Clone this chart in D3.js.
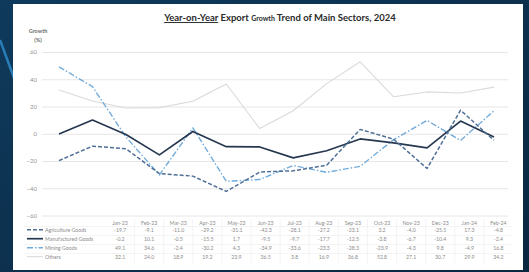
<!DOCTYPE html>
<html>
<head>
<meta charset="utf-8">
<script src="https://cdn.jsdelivr.net/npm/d3@7"></script>
<style>
    body { margin: 0; background: #0b2a45; }
    svg { display: block; }
    .tick line { stroke: #e6e6e6; }
    .tick text { fill: #939393; font-size: 6px; }
</style>
</head>
<body>
<svg id="chart" width="529" height="272"></svg>
<script>
// --- data ---
const months = ["Jan-23", "Feb-23", "Mar-23", "Apr-23", "May-23", "Jun-23", "Jul-23",
    "Aug-23", "Sep-23", "Oct-23", "Nov-23", "Dec-23", "Jan-24", "Feb-24"];
const agriculture = [-19.7, -9.1, -11.0, -29.2, -31.1, -42.3, -28.1, -27.2, -23.1, 3.2, -4.0, -25.5, 17.3, -4.8];
const manufactured = [-0.2, 10.1, -0.5, -15.5, 1.7, -9.5, -9.7, -17.7, -12.5, -3.8, -6.7, -10.4, 9.3, -2.4];
const mining = [49.1, 34.6, -2.4, -30.2, 4.3, -34.9, -33.6, -23.3, -28.3, -23.9, -4.3, 9.8, -4.9, 16.8];
const others = [32.1, 24.0, 18.9, 19.2, 23.9, 36.5, 3.8, 16.9, 36.8, 52.8, 27.1, 30.7, 29.9, 34.2];
const yTicks = [-60, -40, -20, 0, 20, 40, 60];

const series = [
    { name: "Agriculture Goods", values: agriculture, color: "#4f6f96", width: 1.5, dash: "4,2" },
    { name: "Manufactured Goods", values: manufactured, color: "#263850", width: 1.7, dash: null },
    { name: "Mining Goods", values: mining, color: "#72acdb", width: 1.4, dash: "6,2,1.5,2" },
    { name: "Others", values: others, color: "#dadada", width: 1.1, dash: null }
];

const svg = d3.select("#chart");

// background slide + white panel
const bg = svg.append("defs").append("linearGradient")
    .attr("id", "bg").attr("x1", 0).attr("y1", 0).attr("x2", 1).attr("y2", 1);
bg.append("stop").attr("offset", 0).attr("stop-color", "#0f3a5c");
bg.append("stop").attr("offset", 1).attr("stop-color", "#0a2740");
svg.append("rect").attr("width", 529).attr("height", 272).attr("fill", "url(#bg)");
svg.append("line").attr("x1", 0).attr("y1", 40).attr("x2", 14).attr("y2", 78)
    .attr("stroke", "#2f8fd0").attr("stroke-width", 2.5).attr("opacity", 0.8);
svg.append("rect").attr("x", 13).attr("y", 4).attr("width", 510).attr("height", 266).attr("fill", "#fff");

// title
const title = svg.append("text")
    .attr("x", 280).attr("y", 21)
    .attr("text-anchor", "middle")
    .style("font-family", "Lato").style("font-weight", "bold").style("font-size", "9.5px")
    .attr("fill", "#2a2a2a");
title.append("tspan").attr("text-decoration", "underline").text("Year-on-Year");
title.append("tspan").text(" Export ");
title.append("tspan").style("font-size", "7px").text("Growth");
title.append("tspan").text(" Trend of Main Sectors, 2024");

svg.append("text").attr("x", 38).attr("y", 33).attr("text-anchor", "middle")
    .style("font-family", "Lato").style("font-weight", "bold").style("font-size", "5.5px")
    .attr("fill", "#6e6e6e").text("Growth");
svg.append("text").attr("x", 38).attr("y", 42).attr("text-anchor", "middle")
    .style("font-family", "Lato").style("font-weight", "bold").style("font-size", "5.5px")
    .attr("fill", "#6e6e6e").text("(%)");

// scales
const x = d3.scalePoint().domain(months).range([59, 494]);
const y = d3.scaleLinear().domain([-60, 60]).range([215.5, 52]);

const yAxis = svg.append("g")
    .attr("transform", "translate(42,0)")
    .style("font-family", "Lato")
    .call(d3.axisLeft(y).tickValues(yTicks).tickSize(-466).tickPadding(5));
yAxis.select(".domain").remove();

// lines (draw Others first so it sits underneath)
const line = d3.line().x((d, i) => x(months[i])).y(d => y(d));
series.slice().reverse().forEach(s => {
    svg.append("path")
        .datum(s.values)
        .attr("fill", "none")
        .attr("stroke", s.color)
        .attr("stroke-width", s.width)
        .attr("stroke-dasharray", s.dash)
        .attr("stroke-linejoin", "round")
        .attr("d", line);
});

// data table
const col = d3.scaleBand().domain(months).range([105.5, 513]);
const rowY = [231.5, 240.5, 249.5, 258.5];
const table = svg.append("g").style("font-family", "Lato").style("font-size", "5.2px").attr("fill", "#8c8c8c");

table.selectAll(".head").data(months).enter().append("text")
    .attr("x", d => col(d) + col.bandwidth() / 2).attr("y", 224.5)
    .attr("text-anchor", "middle").text(d => d);

months.forEach((m, i) => {
    if (i > 0) {
        table.append("line").attr("x1", col(m)).attr("x2", col(m))
            .attr("y1", 219).attr("y2", 263).attr("stroke", "#ededed").attr("stroke-width", 0.6);
    }
});

series.forEach((s, r) => {
    table.append("line").attr("x1", 24).attr("x2", 513)
        .attr("y1", rowY[r] - 5).attr("y2", rowY[r] - 5)
        .attr("stroke", "#ededed").attr("stroke-width", 0.6);
    table.append("line").attr("x1", 27).attr("x2", 43)
        .attr("y1", rowY[r] - 1.8).attr("y2", rowY[r] - 1.8)
        .attr("stroke", s.color).attr("stroke-width", s.width)
        .attr("stroke-dasharray", s.dash);
    table.append("text").attr("x", 45).attr("y", rowY[r]).text(s.name);
    table.selectAll(null).data(s.values).enter().append("text")
        .attr("x", (d, i) => col(months[i]) + col.bandwidth() / 2)
        .attr("y", rowY[r])
        .attr("text-anchor", "middle")
        .text(d => d.toFixed(1));
});
</script>
</body>
</html>
